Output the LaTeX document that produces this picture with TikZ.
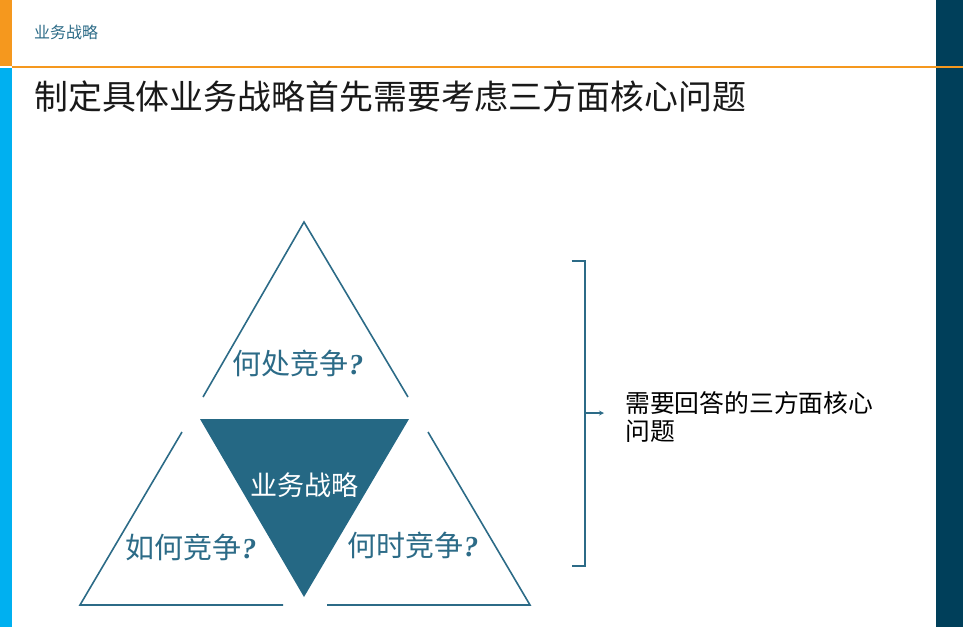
\documentclass[tikz,border=0pt]{standalone}
\usepackage{fontspec}
\setmainfont{Liberation Serif}
\newfontfamily\cjk{Noto Sans CJK SC}
\usetikzlibrary{positioning}
\definecolor{bizblue}{RGB}{44,107,135}
\definecolor{bizfill}{RGB}{37,104,132}
\definecolor{barorange}{RGB}{245,152,30}
\definecolor{barcyan}{RGB}{0,176,240}
\definecolor{bardark}{RGB}{0,63,90}
\newcommand{\qmark}{{\rmfamily\bfseries\itshape ?}}
\tikzset{
  triline/.style={bizblue, line width=1.6pt},
  qlabel/.style={bizblue, inner sep=0pt, font=\cjk\fontsize{29}{31}\selectfont},
}
\begin{document}
\begin{tikzpicture}[x=1pt,y=-1pt]
  \useasboundingbox (0,0) rectangle (963,627);
  \fill[barorange] (0,0) rectangle (11.5,66);
  \fill[barcyan] (0,68) rectangle (11.5,627);
  \fill[bardark] (936,0) rectangle (963,627);
  \draw[barorange, line width=2pt] (11.5,67) -- (963,67);
  \node[anchor=west, bizblue, inner sep=0pt, font=\cjk\fontsize{16}{18}\selectfont] (header) at (34,32) {业务战略};
  \node[anchor=west, black!90, inner sep=0pt, font=\cjk\fontsize{33.9}{36}\selectfont] (title) at (34,97) {制定具体业务战略首先需要考虑三方面核心问题};
  % triangles
  \draw[triline] (203,397) -- (304,222) -- (408,397);
  \fill[bizfill] (200,419) -- (409,419) -- (304,597) -- cycle;
  \draw[triline] (182,432) -- (80,605) -- (283,605);
  \draw[triline] (428,432) -- (530,605) -- (327,605);
  \node[qlabel] (where) at (298,363) {何处竞争\qmark};
  \node[qlabel, white, font=\cjk\fontsize{27}{30}\selectfont] (core) at (304,485) {业务战略};
  \node[qlabel] (how) at (191,547) {如何竞争\qmark};
  \node[qlabel] (when) at (413,545) {何时竞争\qmark};
  % bracket
  \draw[bizblue, line width=1.6pt] (571.5,261) -- (585,261) -- (585,566) -- (571.5,566);
  \coordinate (brk) at (585,413);
  \coordinate (tip) at (604,413);
  \draw[bizblue, line width=1.2pt, -stealth] (brk) -- (tip);
  \node[anchor=north west, align=left, inner sep=0pt, font=\cjk\fontsize{24.8}{28.5}\selectfont] (answer) at (625,391) {需要回答的三方面核心\\问题};
\end{tikzpicture}
\end{document}
